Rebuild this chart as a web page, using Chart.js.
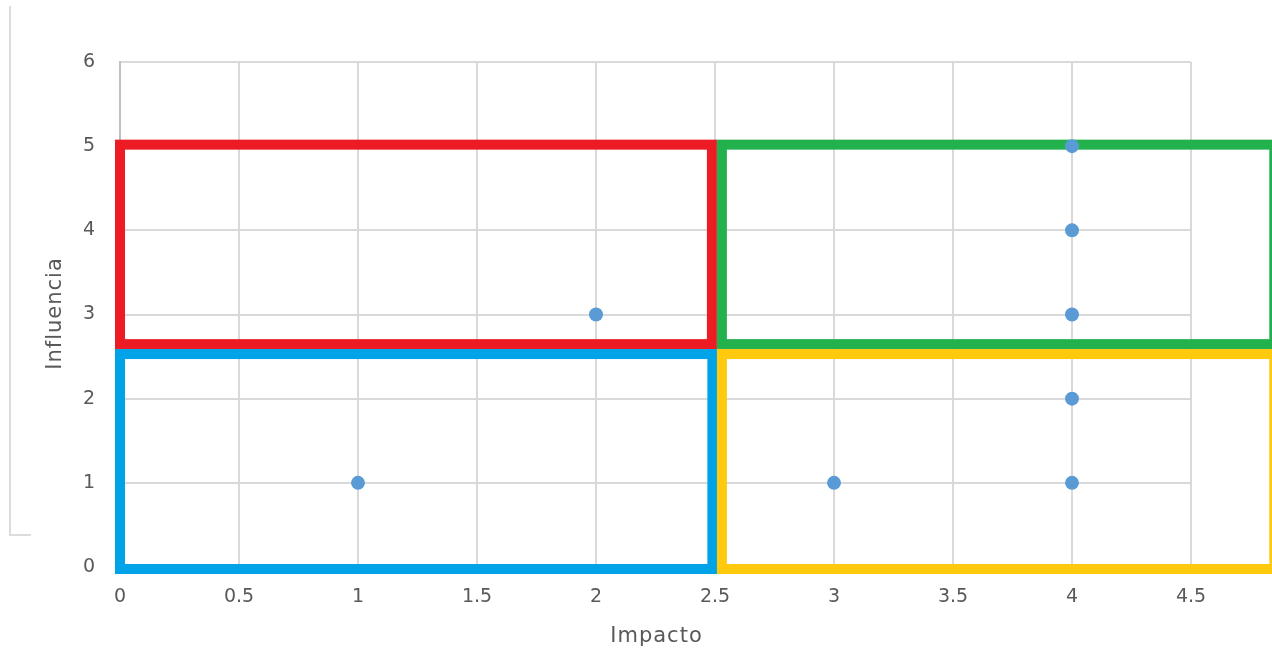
<!DOCTYPE html>
<html lang="es">
<head>
<meta charset="utf-8">
<title>Impacto / Influencia</title>
<script src="https://cdn.jsdelivr.net/npm/chart.js@4.4.1/dist/chart.umd.min.js"></script>
<style>
  html, body { margin: 0; padding: 0; background: #ffffff; }
  #wrap { position: relative; width: 1272px; height: 653px; overflow: hidden; }
  #frame {
    position: absolute; left: 9px; top: 6px; width: 20px; height: 528px;
    border-left: 2px solid #dcdcdc; border-bottom: 2px solid #dcdcdc;
  }
  canvas { position: absolute; left: 0; top: 0; }
</style>
</head>
<body>
<div id="wrap">
  <div id="frame"></div>
  <canvas id="chart" width="1272" height="653"></canvas>
</div>
<script>
// Stakeholder scores
const impacto    = [1, 2, 3, 4, 4, 4, 4, 4];
const influencia = [1, 3, 1, 1, 2, 3, 4, 5];

// Axis ranges and tick steps
const xTicks = { min: 0, max: 4.5, step: 0.5 };
const yTicks = { min: 0, max: 6, step: 1 };

// Quadrant frames in data units: [xFrom, xTo, yFrom, yTo]
const quadrantNames  = ['Alta influencia / bajo impacto', 'Alta influencia / alto impacto',
                        'Baja influencia / bajo impacto', 'Baja influencia / alto impacto'];
const quadrantBounds = [
  [0.0,   2.487, 2.648, 5.018],
  [2.529, 4.85,  2.648, 5.018],
  [0.0,   2.489, -0.024, 2.53],
  [2.529, 4.85,  -0.024, 2.53]
];
const quadrantColors = ['#ed1c24', '#22b14c', '#00a2e8', '#ffc90e'];

const xTitle = 'Impacto';
const yTitle = 'Influencia';

const points = impacto.map((x, i) => ({ x: x, y: influencia[i] }));

// Draws the four coloured quadrant frames below the points, unclipped
const quadrantPlugin = {
  id: 'quadrants',
  beforeDatasetsDraw(chart) {
    const { ctx, scales: { x, y } } = chart;
    ctx.save();
    ctx.lineWidth = 10;
    ctx.lineJoin = 'miter';
    quadrantBounds.forEach((b, i) => {
      const x0 = x.getPixelForValue(b[0]);
      const x1 = x.getPixelForValue(b[1]);
      const y0 = y.getPixelForValue(b[2]);
      const y1 = y.getPixelForValue(b[3]);
      ctx.strokeStyle = quadrantColors[i];
      ctx.strokeRect(x0, y1, x1 - x0, y0 - y1);
    });
    ctx.restore();
  }
};

// Axis titles with slightly open letter spacing
const axisTitlePlugin = {
  id: 'axisTitles',
  afterDraw(chart) {
    const { ctx, chartArea: a } = chart;
    ctx.save();
    ctx.fillStyle = '#595959';
    ctx.font = '21px "DejaVu Sans"';
    ctx.letterSpacing = '1px';
    ctx.textAlign = 'center';
    ctx.textBaseline = 'middle';
    ctx.fillText(xTitle, (a.left + a.right) / 2 + 1, a.bottom + 70);
    ctx.translate(a.left - 64, (a.top + a.bottom) / 2);
    ctx.rotate(-Math.PI / 2);
    ctx.fillText(yTitle, 1, 0);
    ctx.restore();
  }
};

new Chart(document.getElementById('chart'), {
  type: 'scatter',
  data: {
    datasets: [{
      label: yTitle,
      data: points,
      backgroundColor: '#5b9bd5',
      borderColor: '#5b9bd5',
      borderWidth: 0,
      pointRadius: 7,
      pointHoverRadius: 7,
      clip: false
    }]
  },
  options: {
    responsive: false,
    animation: false,
    devicePixelRatio: 1,
    layout: { padding: { top: 62, right: 81, left: 0, bottom: 0 } },
    plugins: {
      legend: { display: false },
      tooltip: { enabled: false }
    },
    scales: {
      x: {
        type: 'linear',
        min: xTicks.min,
        max: xTicks.max,
        afterFit(scale) { scale.height = 86; },
        ticks: {
          stepSize: xTicks.step,
          padding: 19,
          color: '#595959',
          font: { family: '"DejaVu Sans"', size: 19 },
          maxRotation: 0,
          callback: v => String(v)
        },
        grid: { color: '#d9d9d9', lineWidth: 2, drawTicks: false },
        border: { display: false }
      },
      y: {
        type: 'linear',
        min: yTicks.min,
        max: yTicks.max,
        afterFit(scale) { scale.width = 120; },
        ticks: {
          stepSize: yTicks.step,
          padding: 25,
          color: '#595959',
          font: { family: '"DejaVu Sans"', size: 19 }
        },
        grid: { color: '#d9d9d9', lineWidth: 2, drawTicks: false },
        border: { display: true, color: '#c0c0c0', width: 2 }
      }
    }
  },
  plugins: [quadrantPlugin, axisTitlePlugin]
});
</script>
</body>
</html>
